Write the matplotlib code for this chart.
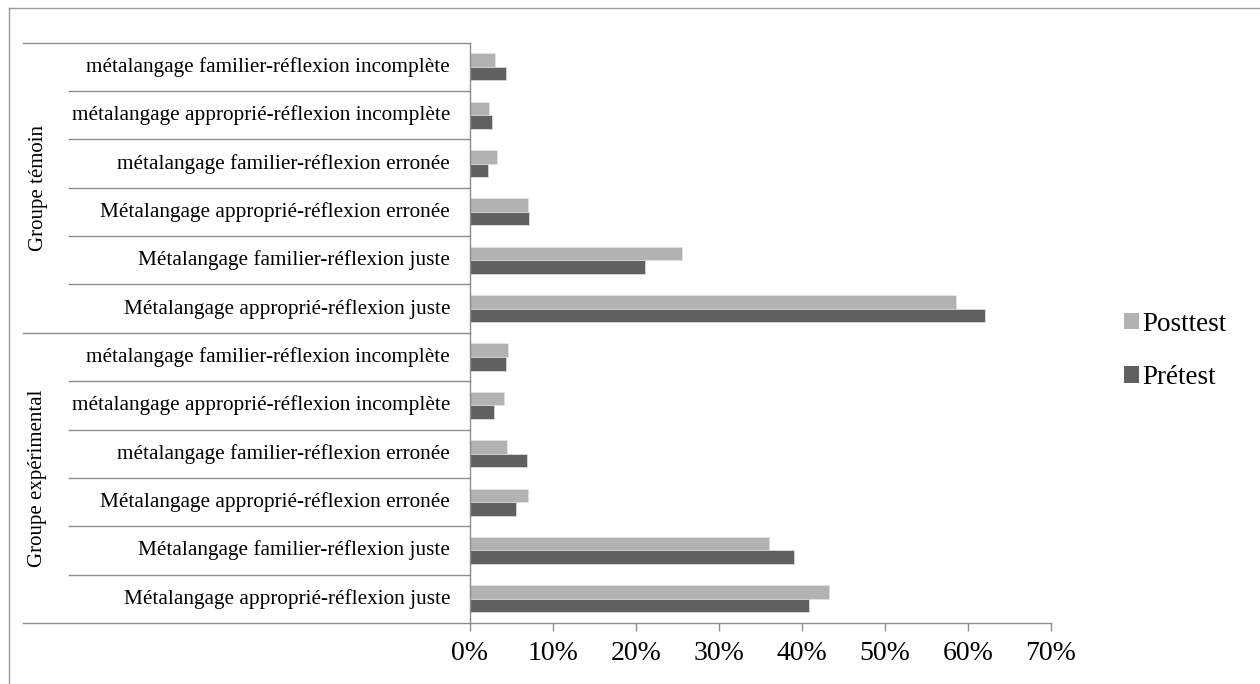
import matplotlib
matplotlib.use("Agg")
import matplotlib.pyplot as plt
from matplotlib.lines import Line2D
from matplotlib.patches import Patch
from matplotlib.ticker import FuncFormatter

plt.rcParams['font.family'] = ['Liberation Serif', 'DejaVu Serif']

# Categories listed from bottom to top of the chart
categories = [
    "Métalangage approprié-réflexion juste",
    "Métalangage familier-réflexion juste",
    "Métalangage approprié-réflexion erronée",
    "métalangage familier-réflexion erronée",
    "métalangage approprié-réflexion incomplète",
    "métalangage familier-réflexion incomplète",
    "Métalangage approprié-réflexion juste",
    "Métalangage familier-réflexion juste",
    "Métalangage approprié-réflexion erronée",
    "métalangage familier-réflexion erronée",
    "métalangage approprié-réflexion incomplète",
    "métalangage familier-réflexion incomplète",
]
groups = ["Groupe expérimental", "Groupe témoin"]

# Percentages, same order as categories
posttest = [43.3, 36.0, 7.0, 4.4, 4.1, 4.6,
            58.5, 25.5, 7.0, 3.2, 2.3, 3.0]
pretest = [40.8, 39.0, 5.5, 6.9, 2.9, 4.3,
           62.1, 21.1, 7.1, 2.2, 2.6, 4.3]

x_ticks = [0, 10, 20, 30, 40, 50, 60, 70]

W, H = 1260, 684
fig = plt.figure(figsize=(W / 100, H / 100), dpi=100)
fig.patch.set_facecolor("white")

ax_l, ax_r, ax_t, ax_b = 470, 1051, 42.7, 623
ax = fig.add_axes([ax_l / W, 1 - ax_b / H, (ax_r - ax_l) / W, (ax_b - ax_t) / H])

c_post = "#b2b2b2"
c_pre = "#606060"
bh = 0.28
ypos = list(range(len(categories)))
ax.barh([y + bh / 2 for y in ypos], posttest, height=bh, color=c_post,
        edgecolor="#e2e2e2", linewidth=0.6, label="Posttest")
ax.barh([y - bh / 2 for y in ypos], pretest, height=bh, color=c_pre,
        edgecolor="#d8d8d8", linewidth=0.6, label="Prétest")

ax.set_xlim(0, 70)
ax.set_ylim(-0.5, len(categories) - 0.5)
ax.set_xticks(x_ticks)
ax.xaxis.set_major_formatter(FuncFormatter(lambda v, p: f"{v:.0f}%"))
ax.tick_params(axis="x", direction="out", length=6, width=1, color="#8c8c8c",
               labelsize=20, pad=7)
ax.set_yticks([])

for side in ("top", "right"):
    ax.spines[side].set_visible(False)
for side in ("left", "bottom"):
    ax.spines[side].set_color("#8c8c8c")
    ax.spines[side].set_linewidth(1)

# Category labels and separators in the label column
ytr = ax.get_yaxis_transform()
span = ax_r - ax_l
x_cat = (69 - ax_l) / span
x_grp = (23 - ax_l) / span
x_txt = (450 - ax_l) / span
for i, lab in enumerate(categories):
    ax.text(x_txt, i, lab, transform=ytr, ha="right", va="center",
            fontsize=15.3, color="black")
for k in range(len(categories) + 1):
    b = k - 0.5
    x0 = x_grp if k % 6 == 0 else x_cat
    ax.add_line(Line2D([x0, 0], [b, b], transform=ytr, color="#8c8c8c",
                       lw=1, clip_on=False))

x_gtxt = (38 - ax_l) / span
for g, name in enumerate(groups):
    ax.text(x_gtxt, g * 6 + 2.5, name, transform=ytr, rotation=90,
            ha="center", va="center", fontsize=15, color="black")

# Legend
handles = [Patch(facecolor=c_post, edgecolor="none", label="Posttest"),
           Patch(facecolor=c_pre, edgecolor="none", label="Prétest")]
fig.legend(handles=handles, loc="center left",
           bbox_to_anchor=(1100 / W, 1 - 351 / H), frameon=False,
           fontsize=19.5, handlelength=0.55, handleheight=0.55,
           handletextpad=0.12, labelspacing=1.05)

# Outer chart-area border (left and top edges)
fig.add_artist(Line2D([9 / W, 9 / W], [0, 1 - 8 / H], transform=fig.transFigure,
                      color="#9a9a9a", lw=1))
fig.add_artist(Line2D([9 / W, 1], [1 - 8 / H, 1 - 8 / H], transform=fig.transFigure,
                      color="#9a9a9a", lw=1))

fig.savefig("out.png", dpi=100, facecolor="white")
